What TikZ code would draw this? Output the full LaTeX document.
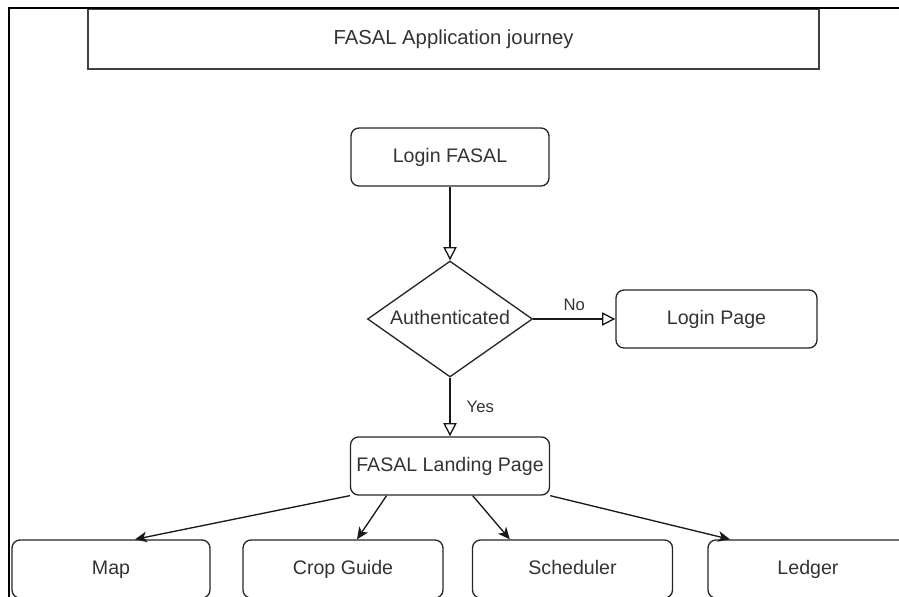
\documentclass[tikz,border=0pt]{standalone}
\usepackage{fontspec}
\setmainfont{Liberation Sans}
\usetikzlibrary{shapes.geometric,arrows.meta,calc}
\begin{document}
\begin{tikzpicture}[x=0.75pt,y=-0.75pt,
  txt/.style={text=black!80, font=\fontsize{14.7}{17}\selectfont, text height=10.5pt, text depth=3pt},
  lbl/.style={text=black!80, font=\fontsize{12.5}{15}\selectfont, inner sep=0pt},
  box/.style={txt, draw=black!85, line width=1pt, rounded corners=6pt, minimum height=43.5pt, inner sep=0pt},
  titlebox/.style={txt, draw=black!75, line width=1.3pt, minimum width=548.25pt, minimum height=45pt, inner sep=0pt},
  decision/.style={txt, diamond, shape aspect=1.6, draw=black!85, line width=1pt, minimum width=123.75pt, minimum height=87pt, inner sep=0pt},
  openarrow/.style={draw=black!90, line width=1pt, -{Triangle[open, length=10pt, width=10pt]}},
  fillarrow/.style={draw=black!90, line width=1pt, -{Stealth[length=9pt, width=8pt, inset=2.5pt]}}
]
\useasboundingbox (0,0) rectangle (899,596);
\clip (0,0) rectangle (899,596);

\node[titlebox, font=\fontsize{15.2}{18}\selectfont] (title) at (453.5,39) {FASAL Application journey};
\draw[line width=1.6pt] (9,605) -- (9,8) -- (905,8);

\node[box, minimum width=148.5pt] (login) at (450,157) {Login FASAL};
\node[decision] (auth) at (450,319) {Authenticated};
\node[box, minimum width=150.75pt] (lpage) at (716.5,319) {Login Page};
\node[box, minimum width=149.25pt] (land) at (450,466) {FASAL Landing Page};

\node[box, minimum width=148.5pt] (map) at (111,569) {Map};
\node[box, minimum width=150pt] (crop) at (343,569) {Crop Guide};
\node[box, minimum width=150pt] (sched) at (572.5,569) {Scheduler};
\node[box, minimum width=150pt] (ledger) at (808,569) {Ledger};

\draw[openarrow] (login) -- (auth);
\draw[openarrow] (auth) -- node[lbl, pos=0.5, above=6pt] (no) {No} (lpage);
\draw[openarrow] (auth) -- node[lbl, pos=0.5, right=12pt] (yes) {Yes} (land);

\draw[fillarrow] (land.south west) -- ([xshift=18pt]map.north);
\draw[fillarrow] ([xshift=-47.6pt]land.south) -- ([xshift=10.5pt]crop.north);
\draw[fillarrow] ([xshift=17pt]land.south) -- ([xshift=-47pt]sched.north);
\draw[fillarrow] (land.south east) -- ([xshift=-58.5pt]ledger.north);
\end{tikzpicture}
\end{document}
